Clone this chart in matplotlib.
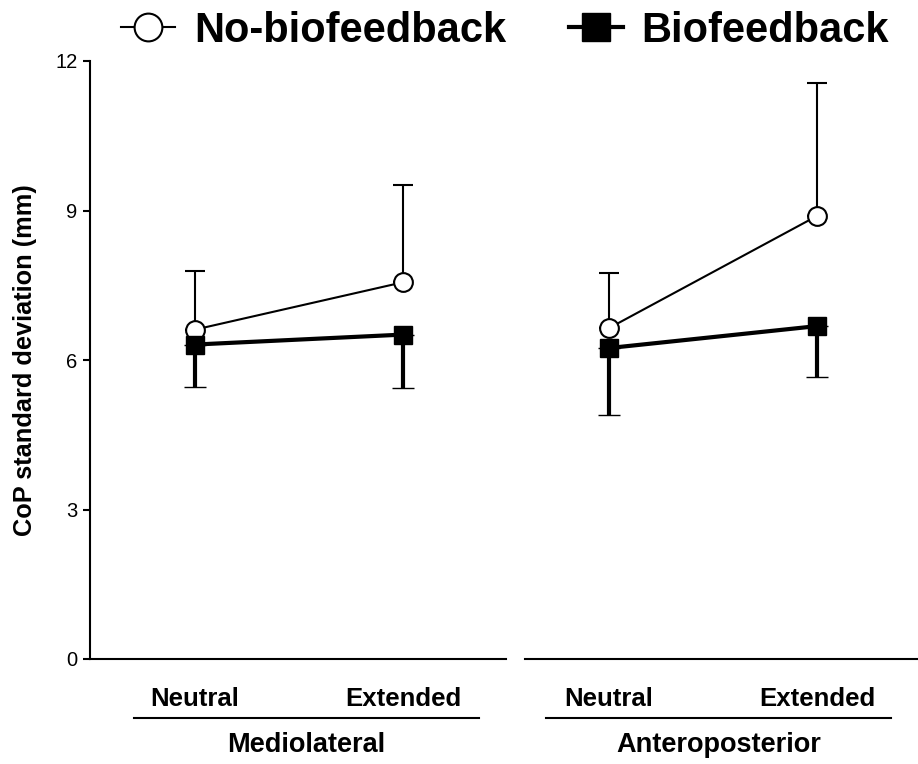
import matplotlib
matplotlib.use("Agg")
import matplotlib.pyplot as plt
from matplotlib.lines import Line2D

plt.rcParams['font.family'] = ['Liberation Sans', 'DejaVu Sans']

groups = ["Mediolateral", "Anteroposterior"]
conditions = ["Neutral", "Extended"]
nobf_mean = {"Mediolateral": [6.61, 7.56], "Anteroposterior": [6.64, 8.89]}
nobf_err = {"Mediolateral": [1.17, 1.95], "Anteroposterior": [1.11, 2.67]}
bf_mean = {"Mediolateral": [6.31, 6.51], "Anteroposterior": [6.24, 6.68]}
bf_err = {"Mediolateral": [0.86, 1.08], "Anteroposterior": [1.35, 1.02]}
yticks = [0, 3, 6, 9, 12]

W, H = 918, 764
fig = plt.figure(figsize=(W / 100, H / 100), dpi=100)

def fx(px):
    return px / W

def fy(py):
    return 1 - py / H

ax_specs = [
    (90, 506, -0.505, 1.495),
    (525, 918, -0.404, 1.486),
]
grp_lines = [(134, 479), (546, 891)]

axes = []
for gi, g in enumerate(groups):
    x0, x1, xl0, xl1 = ax_specs[gi]
    ax = fig.add_axes([fx(x0), fy(659), fx(x1) - fx(x0), fy(61) - fy(659)])
    axes.append(ax)
    xs = list(range(len(conditions)))
    ax.errorbar(xs, nobf_mean[g], yerr=[[0] * 2, nobf_err[g]], fmt='-o',
                color='black', mfc='white', mec='black', ms=13.5, mew=1.5,
                lw=1.5, elinewidth=1.5, capsize=7, capthick=1.5, zorder=3,
                label='No-biofeedback')
    ax.errorbar(xs, bf_mean[g], yerr=[bf_err[g], [0] * 2], fmt='-s',
                color='black', mfc='black', mec='black', ms=13.5, mew=1,
                lw=3, elinewidth=3, capsize=8, capthick=3, zorder=4,
                label='Biofeedback')
    ax.set_xlim(xl0, xl1)
    ax.set_ylim(0, 12)
    ax.set_xticks(xs)
    ax.set_xticklabels(conditions, fontsize=18.5, fontweight='bold')
    ax.tick_params(axis='x', length=0, pad=20)
    for s in ['top', 'right']:
        ax.spines[s].set_visible(False)
    ax.spines['bottom'].set_linewidth(1.5)
    ax.spines['left'].set_linewidth(1.5)
    if gi == 0:
        ax.set_yticks(yticks)
        ax.set_yticklabels([str(v) for v in yticks], fontsize=14.5)
        ax.tick_params(axis='y', length=5, width=1.5, pad=4)
        ax.set_ylabel("CoP standard deviation (mm)", fontsize=18.3, fontweight='bold', labelpad=13)
    else:
        ax.spines['left'].set_visible(False)
        ax.set_yticks([])
    l0, l1 = grp_lines[gi]
    fig.add_artist(Line2D([fx(l0), fx(l1)], [fy(718), fy(718)], color='black', lw=1.5))
    fig.text(fx((l0 + l1) / 2), fy(745), g, ha='center', va='center',
             fontsize=19.5, fontweight='bold')

lh = [Line2D([], [], color='black', marker='o', mfc='white', mec='black', ms=20, mew=1.5, lw=1.5),
      Line2D([], [], color='black', marker='s', mfc='black', mec='black', ms=20, mew=1, lw=3)]
fig.legend(lh, ['No-biofeedback', 'Biofeedback'], loc='center', bbox_to_anchor=(fx(505), fy(31)),
           ncol=2, frameon=False, prop={'size': 30, 'weight': 'bold'},
           handlelength=1.3, handletextpad=0.45, columnspacing=1.5, borderaxespad=0)

fig.savefig("out.png", dpi=100)
